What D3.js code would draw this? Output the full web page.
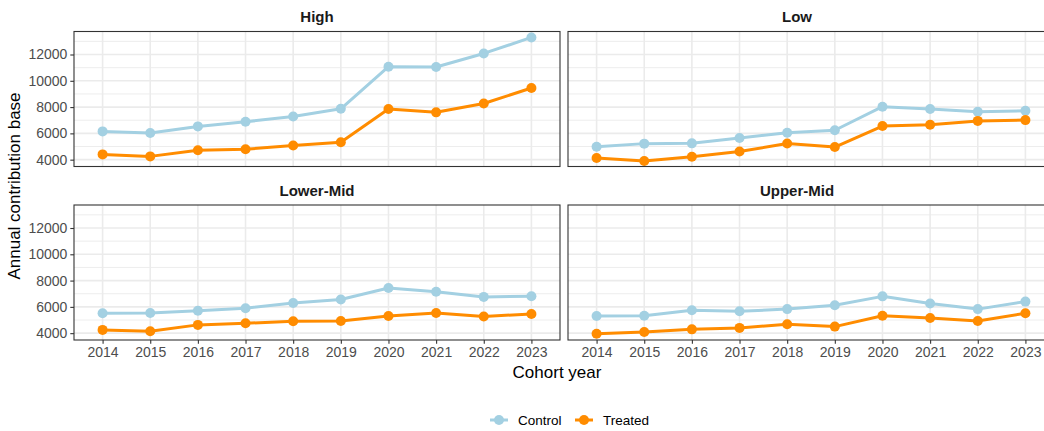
<!DOCTYPE html>
<html>
<head>
<meta charset="utf-8">
<script src="https://cdn.jsdelivr.net/npm/d3@7"></script>
<style>
  html, body { margin: 0; padding: 0; background: #fff; }
  svg { display: block; font-family: "Liberation Sans", Arial, sans-serif; }
</style>
</head>
<body>
<svg id="chart" width="1044" height="431"></svg>
<script>
// ---- Data ----
const years = [2014, 2015, 2016, 2017, 2018, 2019, 2020, 2021, 2022, 2023];
const groups = ["High", "Low", "Lower-Mid", "Upper-Mid"];
const seriesNames = ["Control", "Treated"];
const seriesColors = ["#a3d0e2", "#ff8c00"];

const highControl  = [6150, 6030, 6530, 6880, 7290, 7870, 11070, 11050, 12080, 13300];
const highTreated  = [4400, 4250, 4720, 4790, 5080, 5330, 7850, 7600, 8270, 9450];
const lowControl   = [4980, 5220, 5240, 5650, 6050, 6240, 8030, 7860, 7650, 7720];
const lowTreated   = [4120, 3900, 4220, 4620, 5230, 4960, 6560, 6660, 6950, 7010];
const lmidControl  = [5520, 5540, 5700, 5900, 6300, 6560, 7430, 7150, 6760, 6810];
const lmidTreated  = [4250, 4150, 4630, 4750, 4900, 4930, 5300, 5540, 5270, 5460];
const umidControl  = [5300, 5330, 5740, 5670, 5830, 6130, 6800, 6250, 5830, 6400];
const umidTreated  = [3960, 4090, 4290, 4400, 4680, 4500, 5320, 5150, 4920, 5520];

const yMajorTicks = [4000, 6000, 8000, 10000, 12000];
const yMinorTicks = [5000, 7000, 9000, 11000, 13000];

const panelData = [
  [highControl, highTreated],
  [lowControl, lowTreated],
  [lmidControl, lmidTreated],
  [umidControl, umidTreated]
];

// ---- Layout ----
const svg = d3.select("#chart");
const panelW = 486, panelH = 135;
const colX = [74, 568];
const rowY = [31.5, 205];
const yDomain = [3480, 13750];
const xDomain = [2013.4, 2023.6];

groups.forEach((g, i) => {
  const col = i % 2, row = Math.floor(i / 2);
  const x0 = colX[col], y0 = rowY[row];
  const x = d3.scaleLinear().domain(xDomain).range([x0, x0 + panelW]);
  const y = d3.scaleLinear().domain(yDomain).range([y0 + panelH, y0]);

  const gp = svg.append("g");
  const clipId = "clip" + i;
  svg.append("clipPath").attr("id", clipId).append("rect")
    .attr("x", x0).attr("y", y0).attr("width", panelW).attr("height", panelH);

  const grid = gp.append("g").attr("clip-path", `url(#${clipId})`);
  grid.selectAll(".ymin").data(yMinorTicks).join("line")
    .attr("x1", x0).attr("x2", x0 + panelW)
    .attr("y1", d => y(d)).attr("y2", d => y(d))
    .attr("stroke", "#ebebeb").attr("stroke-width", 0.9);
  grid.selectAll(".ymaj").data(yMajorTicks).join("line")
    .attr("x1", x0).attr("x2", x0 + panelW)
    .attr("y1", d => y(d)).attr("y2", d => y(d))
    .attr("stroke", "#ebebeb").attr("stroke-width", 1.6);
  grid.selectAll(".xmaj").data(years).join("line")
    .attr("x1", d => x(d)).attr("x2", d => x(d))
    .attr("y1", y0).attr("y2", y0 + panelH)
    .attr("stroke", "#ebebeb").attr("stroke-width", 1.6);

  const plot = gp.append("g").attr("clip-path", `url(#${clipId})`);
  panelData[i].forEach((vals, s) => {
    const pts = years.map((yr, k) => [yr, vals[k]]);
    plot.append("path")
      .datum(pts)
      .attr("fill", "none")
      .attr("stroke", seriesColors[s])
      .attr("stroke-width", 3)
      .attr("stroke-linejoin", "round")
      .attr("d", d3.line().x(d => x(d[0])).y(d => y(d[1])));
    plot.selectAll(".pt" + s).data(pts).join("circle")
      .attr("cx", d => x(d[0])).attr("cy", d => y(d[1]))
      .attr("r", 5).attr("fill", seriesColors[s]);
  });

  gp.append("rect")
    .attr("x", x0).attr("y", y0).attr("width", panelW).attr("height", panelH)
    .attr("fill", "none").attr("stroke", "#333333").attr("stroke-width", 1.1);

  gp.append("text")
    .attr("x", x0 + panelW / 2 - (col === 1 ? 14 : 0))
    .attr("y", y0 - 9.5)
    .attr("text-anchor", "middle")
    .attr("font-size", 15).attr("font-weight", "bold")
    .attr("fill", "#1a1a1a")
    .text(g);

  if (col === 0) {
    const ay = d3.axisLeft(y).tickValues(yMajorTicks).tickSize(3.7).tickPadding(3).tickFormat(d3.format("d"));
    const axg = gp.append("g").attr("transform", `translate(${x0},0)`).call(ay);
    axg.select(".domain").remove();
    axg.selectAll(".tick line").attr("stroke", "#333333").attr("stroke-width", 1.1);
    axg.selectAll(".tick text").attr("fill", "#4d4d4d").attr("font-size", 14)
      .attr("font-family", "Liberation Sans, Arial, sans-serif");
  }
  if (row === 1) {
    const ax = d3.axisBottom(x).tickValues(years).tickSize(3.7).tickPadding(3).tickFormat(d3.format("d"));
    const axg = gp.append("g").attr("transform", `translate(0,${y0 + panelH})`).call(ax);
    axg.select(".domain").remove();
    axg.selectAll(".tick line").attr("stroke", "#333333").attr("stroke-width", 1.1);
    axg.selectAll(".tick text").attr("fill", "#4d4d4d").attr("font-size", 14)
      .attr("font-family", "Liberation Sans, Arial, sans-serif");
  }
});

svg.append("text")
  .attr("transform", `translate(20,186) rotate(-90)`)
  .attr("text-anchor", "middle")
  .attr("font-size", 17).attr("fill", "#000")
  .text("Annual contribution base");
svg.append("text")
  .attr("x", 557).attr("y", 378)
  .attr("text-anchor", "middle")
  .attr("font-size", 17).attr("fill", "#000")
  .text("Cohort year");

const legendItems = [
  { name: seriesNames[0], color: seriesColors[0], x: 490 },
  { name: seriesNames[1], color: seriesColors[1], x: 575 }
];
const lg = svg.append("g");
legendItems.forEach(it => {
  lg.append("line")
    .attr("x1", it.x).attr("x2", it.x + 18)
    .attr("y1", 420).attr("y2", 420)
    .attr("stroke", it.color).attr("stroke-width", 3);
  lg.append("circle").attr("cx", it.x + 9).attr("cy", 420).attr("r", 5).attr("fill", it.color);
  lg.append("text")
    .attr("x", it.x + 28).attr("y", 424.5)
    .attr("font-size", 13.5).attr("fill", "#000")
    .text(it.name);
});
</script>
</body>
</html>
